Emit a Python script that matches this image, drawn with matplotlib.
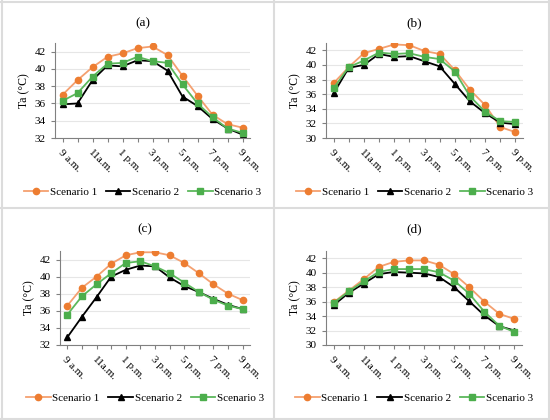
import numpy as np
import matplotlib
matplotlib.use('Agg')
import matplotlib.pyplot as plt
from matplotlib.lines import Line2D

plt.rcParams['font.family'] = ['Liberation Serif', 'DejaVu Serif']

hours = ['9 a.m.', '10 a.m.', '11a.m.', '12 p.m.', '1 p.m.', '2 p.m.', '3 p.m.',
         '4 p.m.', '5 p.m.', '6 p.m.', '7 p.m.', '8 p.m.', '9 p.m.']

a_s1 = [37.0, 38.7, 40.2, 41.4, 41.8, 42.4, 42.6, 41.6, 39.2, 36.9, 34.7, 33.6, 33.2]
a_s2 = [35.9, 36.0, 38.7, 40.4, 40.3, 41.0, 40.9, 39.8, 36.8, 35.7, 34.2, 33.1, 32.4]
a_s3 = [36.3, 37.2, 39.1, 40.6, 40.7, 41.4, 40.9, 40.7, 38.2, 36.0, 34.4, 33.1, 32.6]

b_s1 = [37.5, 39.7, 41.6, 42.2, 42.8, 42.7, 41.9, 41.5, 39.3, 36.6, 34.5, 31.5, 30.8]
b_s2 = [36.1, 39.6, 40.0, 41.5, 41.1, 41.2, 40.5, 39.8, 37.4, 35.0, 33.4, 32.1, 31.9]
b_s3 = [36.8, 39.7, 40.6, 41.7, 41.5, 41.6, 41.1, 40.8, 39.1, 35.7, 33.6, 32.3, 32.2]

c_s1 = [36.6, 38.7, 40.0, 41.5, 42.5, 42.85, 42.85, 42.5, 41.6, 40.4, 39.1, 38.0, 37.25]
c_s2 = [32.9, 35.3, 37.6, 40.0, 40.8, 41.3, 41.2, 39.9, 38.9, 38.2, 37.4, 36.7, 36.2]
c_s3 = [35.55, 37.7, 39.1, 40.4, 41.6, 41.8, 41.2, 40.4, 39.3, 38.2, 37.3, 36.6, 36.2]

d_s1 = [35.9, 37.5, 39.1, 40.8, 41.5, 41.7, 41.7, 41.1, 39.8, 38.0, 36.0, 34.3, 33.6]
d_s2 = [35.5, 37.2, 38.5, 39.8, 40.1, 40.0, 39.9, 39.4, 38.0, 36.05, 34.1, 32.6, 32.0]
d_s3 = [35.8, 37.4, 38.8, 40.1, 40.5, 40.5, 40.5, 40.05, 38.9, 37.1, 34.6, 32.65, 31.8]

panels = [
    ('(a)', a_s1, a_s2, a_s3, 32, [55, 250, 43, 138], 23, 192),
    ('(b)', b_s1, b_s2, b_s3, 30, [326, 523, 43, 138], 23, 192),
    ('(c)', c_s1, c_s2, c_s3, 32, [60, 250, 251, 345], 229, 398),
    ('(d)', d_s1, d_s2, d_s3, 30, [326, 522, 251, 345], 229, 398),
]

W, H = 550, 420
fig = plt.figure(figsize=(5.5, 4.2), dpi=100)

x = np.arange(len(hours))
for title, s1, s2, s3, ymin, box, ty, ly in panels:
    l, r, t, b = box
    ax = fig.add_axes([l / W, 1 - b / H, (r - l) / W, (b - t) / H])
    ax.plot(x, s1, color='#f4a070', lw=1.3, marker='o', ms=4.5,
            mfc='#ed7d31', mec='#ed7d31', label='Scenario 1')
    ax.plot(x, s2, color='black', lw=1.3, marker='^', ms=4.5, label='Scenario 2')
    ax.plot(x, s3, color='#5cb85c', lw=1.3, marker='s', ms=4.5,
            mfc='#4cae4c', mec='#4cae4c', label='Scenario 3')
    ax.set_xlim(-0.5, 12.5)
    ax.set_ylim(ymin, 43)
    ax.set_yticks(np.arange(ymin, 43, 2))
    ax.set_xticks(x)
    ax.set_xticklabels([h if i % 2 == 0 else '' for i, h in enumerate(hours)],
                       rotation=-45, ha='left', rotation_mode='anchor')
    ax.tick_params(axis='both', labelsize=8, length=3, color='#808080', width=0.8)
    ax.tick_params(axis='x', pad=4)
    ax.grid(axis='y', color='#e6e6e6', lw=0.8)
    ax.set_axisbelow(True)
    for side in ['top', 'right']:
        ax.spines[side].set_visible(False)
    for side in ['left', 'bottom']:
        ax.spines[side].set_color('#808080')
        ax.spines[side].set_linewidth(0.8)
    ax.set_ylabel('Ta (°C)', fontsize=8.5, labelpad=3)
    fig.text(((l + r) / 2 - 10) / W, 1 - ty / H, title, fontsize=9.5,
             ha='center', va='center')
    ax.legend(loc='center', bbox_to_anchor=(((l + r) / 2 - 10) / W, 1 - ly / H),
              bbox_transform=fig.transFigure, ncol=3, frameon=False,
              fontsize=8, handlelength=2.2, columnspacing=0.8, handletextpad=0.15,
              borderpad=0.2)

# panel borders
grey = '#dcdcdc'
for xx in [1.5, 274, 548.5]:
    fig.add_artist(Line2D([xx / W, xx / W], [0, 1], color=grey, lw=1.5))
for yy in [1.5, 208, 418.5]:
    fig.add_artist(Line2D([0, 1], [1 - yy / H, 1 - yy / H], color=grey, lw=1.5))

fig.savefig('out.png', dpi=100)
